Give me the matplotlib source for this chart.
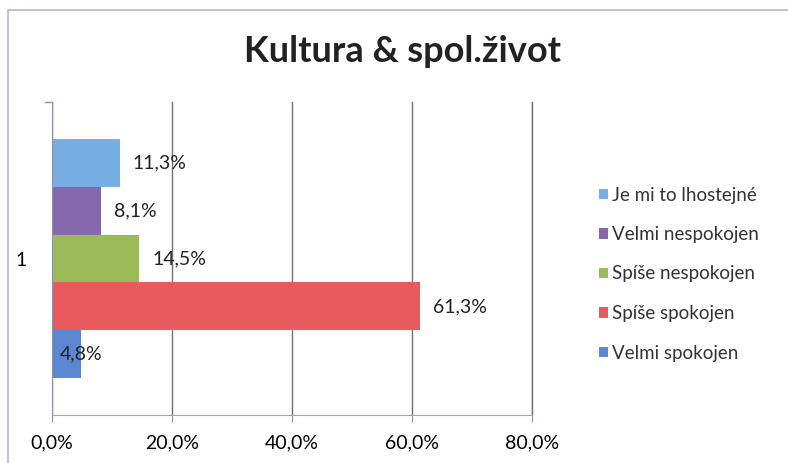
import matplotlib.pyplot as plt
from matplotlib.patches import Rectangle
from matplotlib.lines import Line2D

# data (bottom to top)
labels = ['Velmi spokojen', 'Spíše spokojen', 'Spíše nespokojen', 'Velmi nespokojen', 'Je mi to lhostejné']
values = [4.8, 61.3, 14.5, 8.1, 11.3]
colors = ['#5b87d2', '#e85a5c', '#9bbb59', '#8568ad', '#76aee3']
xticks = [0, 20, 40, 60, 80]

plt.rcParams['font.family'] = ['Lato', 'DejaVu Sans']

fig = plt.figure(figsize=(7.88, 4.63), dpi=100)
W, H = 788, 463

# chart border
fig.add_artist(Rectangle((8 / W, -0.1), 1.0, (H - 10) / H + 0.1, transform=fig.transFigure,
                         fill=False, edgecolor='#b4b6cf', lw=1.2))

ax = fig.add_axes([52 / W, (H - 415) / H, (532 - 52) / W, (415 - 102) / H])
h = 0.153
for i, (lab, v, c) in enumerate(zip(labels, values, colors)):
    y = 0.5 + (i - 2) * h
    ax.barh(y, v, height=h, color=c, label=lab)
    txt = f'{v:.1f}%'.replace('.', ',')
    if v < 6:
        ax.annotate(txt, (v, y), ha='center', va='center', fontsize=14, color='#222222')
    else:
        ax.annotate(txt, (v, y), xytext=(13, 0), textcoords='offset pixels',
                    ha='left', va='center', fontsize=14, color='#222222')

ax.set_xlim(0, 80)
ax.set_ylim(0, 1)
ax.set_xticks(xticks)
ax.set_xticklabels([f'{t:.1f}%'.replace('.', ',') for t in xticks], fontsize=14)
ax.set_yticks([0.5])
ax.set_yticklabels(['1'], fontsize=14)
ax.tick_params(axis='y', length=0, pad=18)
ax.tick_params(axis='x', length=5, color='#8e90a8', pad=9)
ax.grid(axis='x', color='#707080', lw=1)
ax.axvline(80, color='#707080', lw=1, clip_on=False, zorder=0.5)
ax.set_axisbelow(True)
for s in ['top', 'right']:
    ax.spines[s].set_visible(False)
ax.spines['left'].set_color('#8e90a8')
ax.spines['bottom'].set_color('#a0a2b8')
# small tick at top of the value axis
ax.add_line(Line2D([-1.2, 0], [1, 1], color='#8e90a8', lw=1, clip_on=False))

fig.text(403 / W, 1 - 52 / H, 'Kultura & spol.život', ha='center', va='center',
         fontsize=26, fontweight='bold', color='#222222')

handles, labs = ax.get_legend_handles_labels()
leg = fig.legend(handles[::-1], labs[::-1], loc='center left', bbox_to_anchor=(582 / W, 1 - 274 / H),
                 frameon=False, fontsize=13.5, handlelength=0.5, handleheight=0.5,
                 handletextpad=0.2, labelspacing=1.2, labelcolor='#333333')

fig.savefig('out.png', dpi=100)
